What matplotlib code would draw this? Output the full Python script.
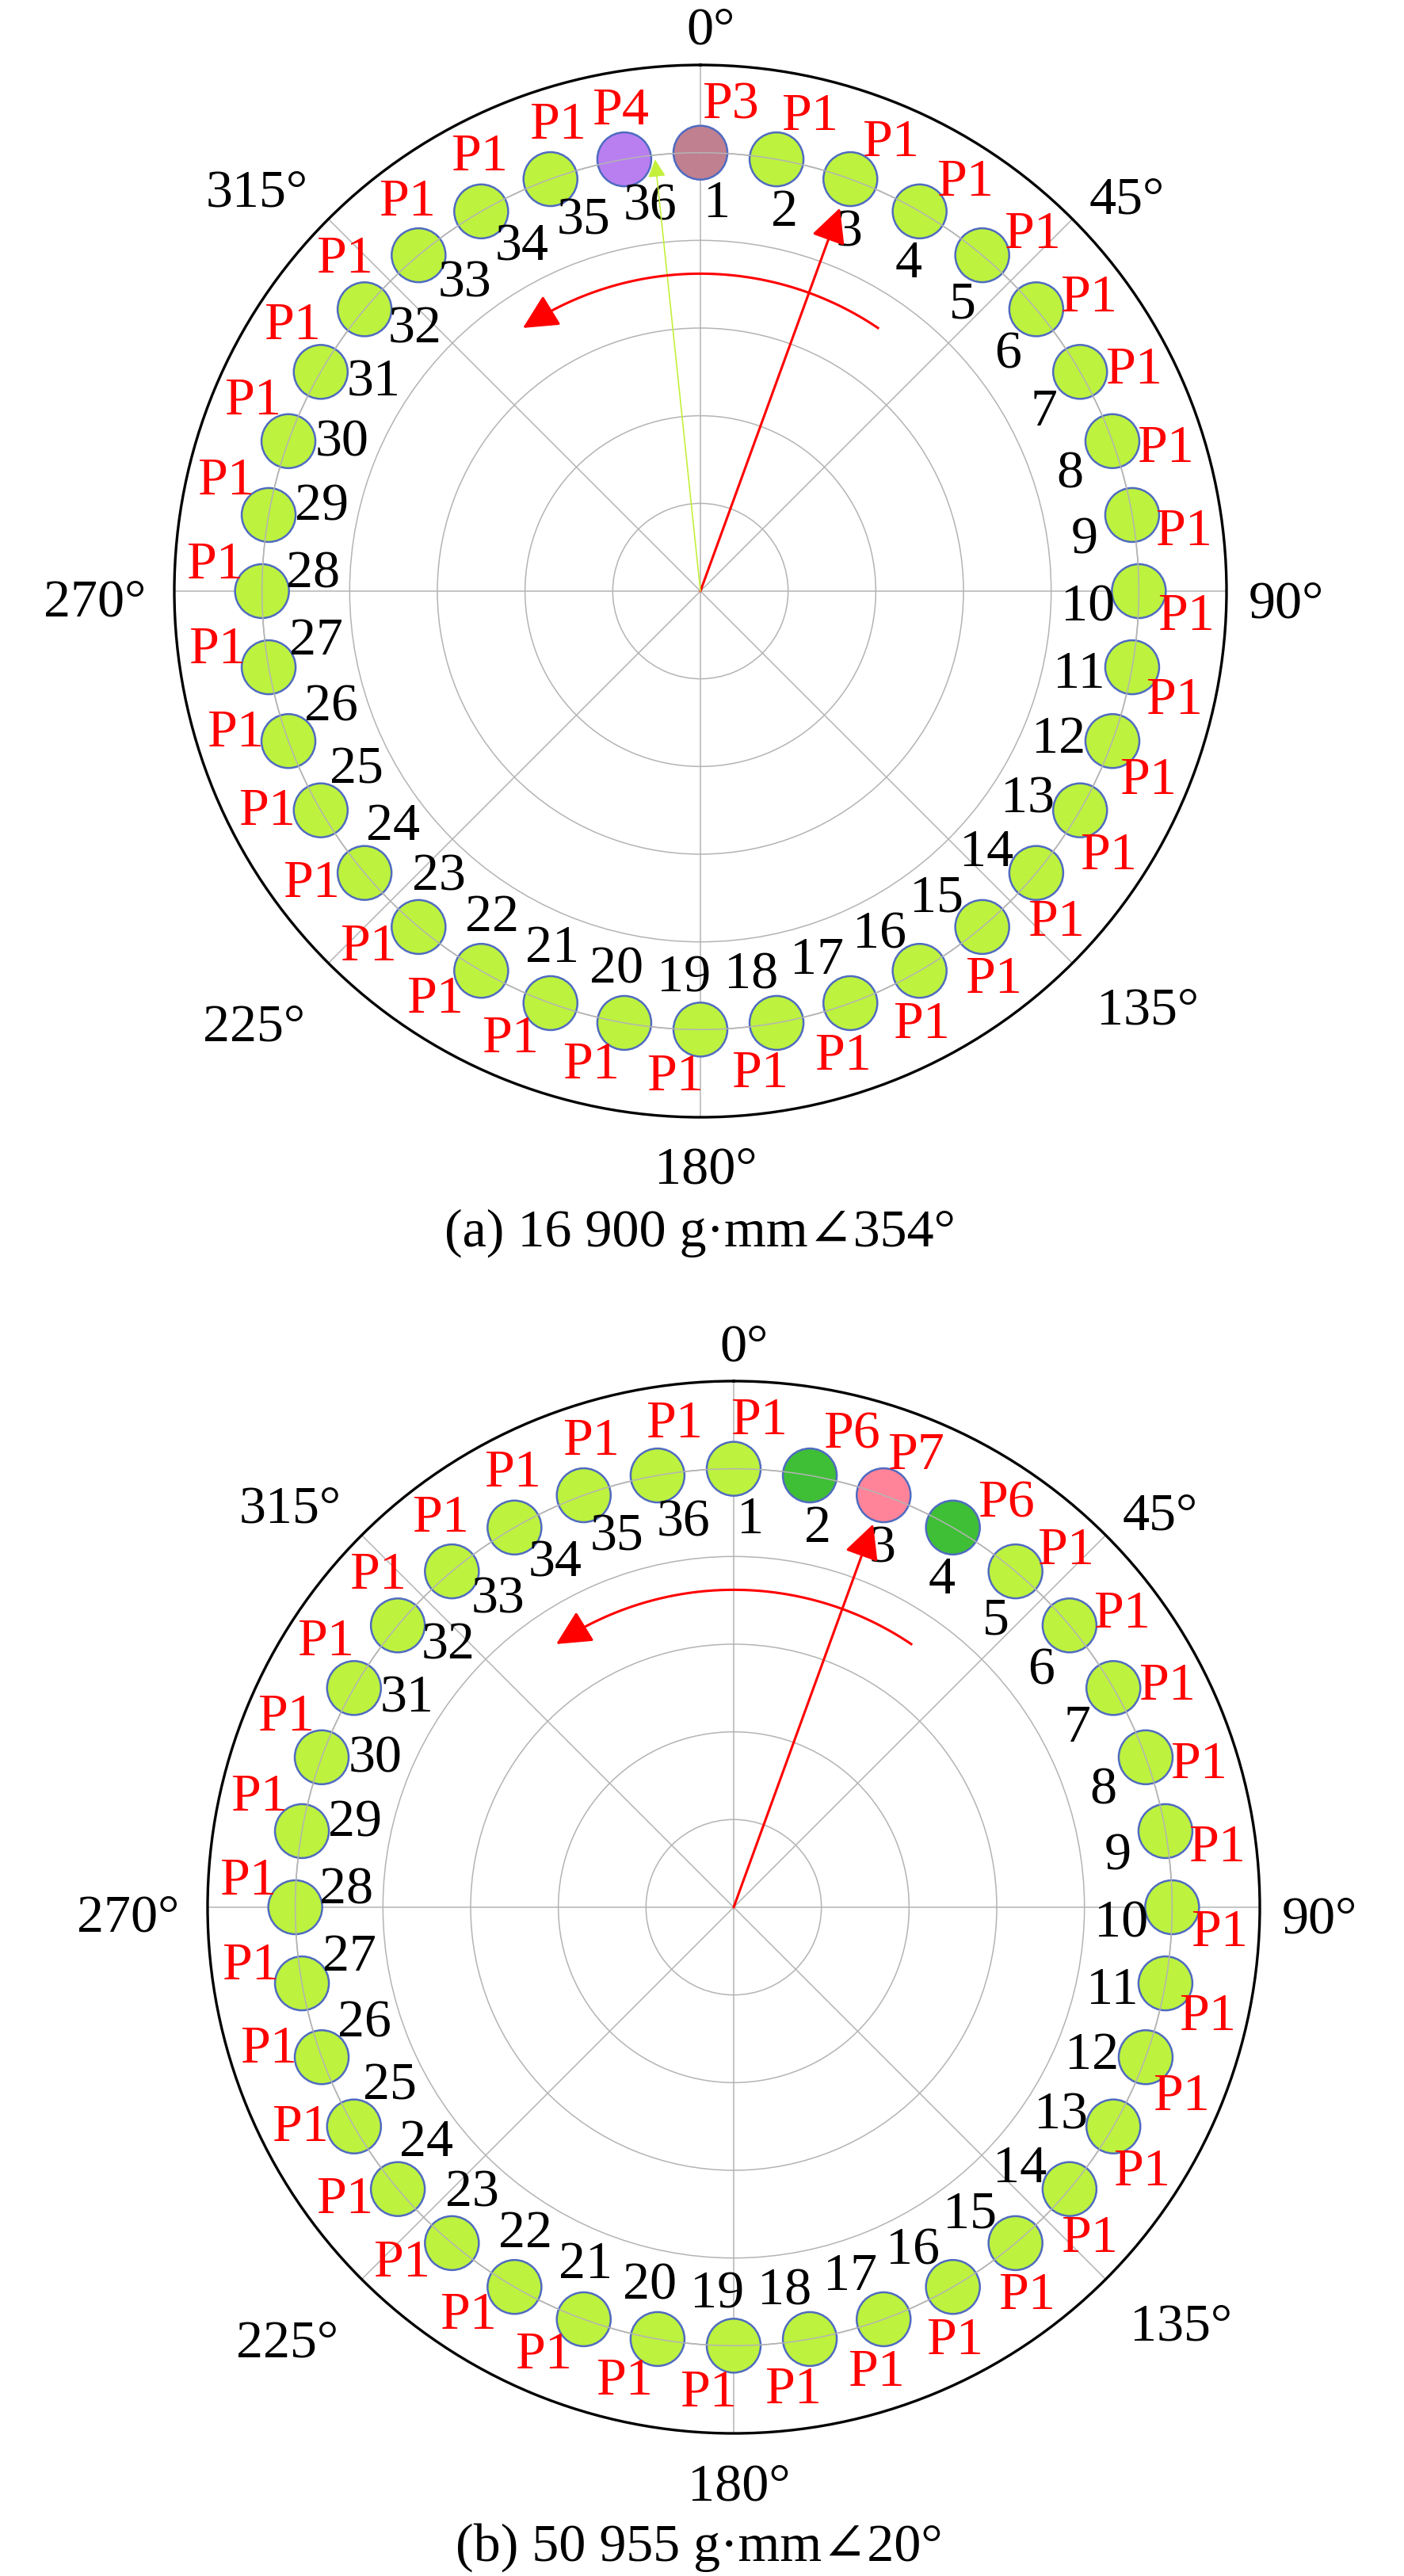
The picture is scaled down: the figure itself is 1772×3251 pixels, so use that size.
import numpy as np
import matplotlib.pyplot as plt

plt.rcParams['font.family'] = ['Liberation Serif', 'DejaVu Serif']

# hole numbers and their angles on the rotor (deg, clockwise from top)
holes = list(range(1, 37))
hole_deg = [(h - 1) * 10 for h in holes]

# weight labels on each hole
labels_a = ['P3', 'P1', 'P1', 'P1', 'P1', 'P1', 'P1', 'P1', 'P1', 'P1', 'P1', 'P1',
            'P1', 'P1', 'P1', 'P1', 'P1', 'P1', 'P1', 'P1', 'P1', 'P1', 'P1', 'P1',
            'P1', 'P1', 'P1', 'P1', 'P1', 'P1', 'P1', 'P1', 'P1', 'P1', 'P1', 'P4']
labels_b = ['P1', 'P6', 'P7', 'P6', 'P1', 'P1', 'P1', 'P1', 'P1', 'P1', 'P1', 'P1',
            'P1', 'P1', 'P1', 'P1', 'P1', 'P1', 'P1', 'P1', 'P1', 'P1', 'P1', 'P1',
            'P1', 'P1', 'P1', 'P1', 'P1', 'P1', 'P1', 'P1', 'P1', 'P1', 'P1', 'P1']

weight_colors = {'P1': '#bdf23e', 'P3': '#c08090', 'P4': '#b97ff0',
                 'P6': '#3fbf36', 'P7': '#ff8499'}

# unbalance vectors: (angle deg, length in ring units, colour, width, head scale)
vectors_a = [(20, 4.65, 'red', 1.1, 20), (354, 4.95, '#c4f03c', 0.6, 10)]
vectors_b = [(20, 4.65, 'red', 1.1, 20)]

captions = ['(a) 16 900 g·mm∠354°', '(b) 50 955 g·mm∠20°']

angle_ticks = [0, 45, 90, 135, 180, 225, 270, 315]
angle_labels = ['0°', '45°', '90°', '135°', '180°', '225°', '270°', '315°']

W, H, DPI = 1772, 3251, 200
fig = plt.figure(figsize=(W / DPI, H / DPI), dpi=DPI)
px = 72.0 / DPI  # one pixel in points
FS = 24.5

# label offsets from the tick point (pixels) and alignment
lab_off = {0: (13, 26, 'center'), 45: (21, 7, 'left'), 90: (28, -33, 'left'),
           135: (30, -77, 'left'), 180: (7, -84, 'center'), 225: (-29, -98, 'right'),
           270: (-36, -31, 'right'), 315: (-26, 16, 'right')}
# angular shift of weight labels (deg)
p_shift = {'P1': 3, 'P3': 3.5, 'P4': 0.5, 'P6': 4, 'P7': 2}


def draw_panel(cx, cy, labels, vectors, caption, cap_x, cap_y):
    R = 664
    ax = fig.add_axes([(cx - R) / W, (H - cy - R) / H, 2 * R / W, 2 * R / H],
                      projection='polar')
    ax.set_theta_zero_location('N')
    ax.set_theta_direction(-1)
    ax.set_ylim(0, 6)
    ax.set_rticks([1, 2, 3, 4, 5])
    ax.set_yticklabels([])
    ax.set_xticks(np.radians(angle_ticks))
    ax.set_xticklabels([])
    ax.set_axisbelow(True)
    ax.grid(True, color='#b4b4b4', lw=0.55)
    ax.spines['polar'].set_linewidth(1.2)
    ax.spines['polar'].set_color('black')
    ax.tick_params(axis='x', direction='in', length=22 * px, width=1.3,
                   color='black', pad=0)

    th = np.radians(hole_deg)
    cols = [weight_colors[l] for l in labels]
    ax.scatter(th, [5] * len(th), s=600, c=cols, edgecolors='#4f6bc0',
               linewidths=0.9, zorder=3)
    ring = np.linspace(0, 2 * np.pi, 400)
    ax.plot(ring, np.full_like(ring, 5), color='#b4b4b4', lw=0.55, zorder=4)

    for h, d, l in zip(holes, hole_deg, labels):
        ax.text(np.radians(d + 2.5), 4.42, str(h), fontsize=FS, color='black',
                ha='center', va='center', zorder=5)
        ax.text(np.radians(d + p_shift[l]), 5.55, l, fontsize=FS, color='red',
                ha='center', va='center', zorder=5)

    for d, lab in zip(angle_ticks, angle_labels):
        dx, dy, ha = lab_off[d]
        ax.annotate(lab, xy=(np.radians(d), 6), xytext=(dx * px, dy * px),
                    textcoords='offset points', ha=ha, va='baseline',
                    fontsize=FS, annotation_clip=False)

    for d, r, c, lw, ms in vectors:
        ax.annotate('', xy=(np.radians(d), r), xytext=(0, 0),
                    arrowprops=dict(arrowstyle='-|>,head_length=0.68,head_width=0.34',
                                    color=c, lw=lw, mutation_scale=ms,
                                    shrinkA=0, shrinkB=0), zorder=6)

    # rotation direction arc
    arc = np.radians(np.linspace(34, -29, 100))
    ax.plot(arc, np.full_like(arc, 3.62), color='red', lw=1.1, zorder=6)
    ax.annotate('', xy=(np.radians(-34), 3.62), xytext=(np.radians(-29), 3.62),
                arrowprops=dict(arrowstyle='-|>,head_length=0.68,head_width=0.34',
                                color='red', lw=1.1, mutation_scale=20,
                                shrinkA=0, shrinkB=0), zorder=6)

    fig.text(cap_x / W, 1 - cap_y / H, caption, fontsize=FS, ha='center',
             va='baseline')


draw_panel(884, 746, labels_a, vectors_a, captions[0], 883, 1573)
draw_panel(926, 2407, labels_b, vectors_b, captions[1], 882, 3232)

fig.savefig('out.png', dpi=DPI)
